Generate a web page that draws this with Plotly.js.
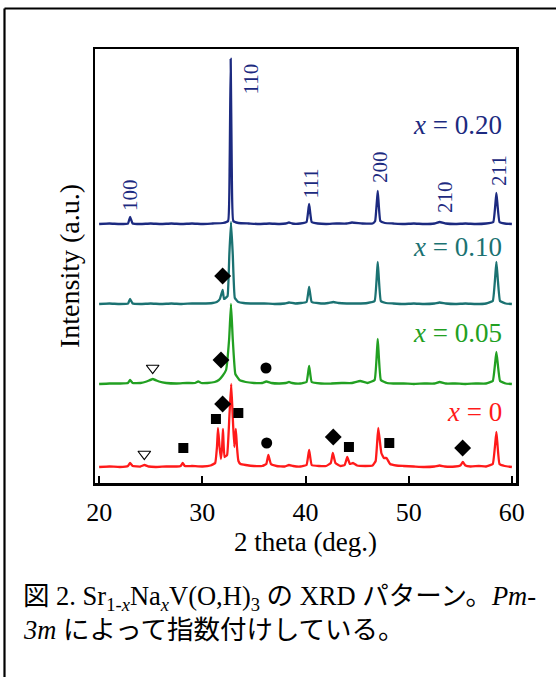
<!DOCTYPE html>
<html>
<head>
<meta charset="utf-8">
<script src="https://cdn.plot.ly/plotly-3.0.1.min.js"></script>
<style>
  html, body { margin: 0; padding: 0; background: #ffffff; }
  #chart { width: 556px; height: 677px; }
</style>
</head>
<body>
<div id="chart"></div>
<script>
// ---- Data ----
const seriesNames = ["x = 0", "x = 0.05", "x = 0.10", "x = 0.20"];
const seriesLabels = ["<i>x</i> = 0", "<i>x</i> = 0.05", "<i>x</i> = 0.10", "<i>x</i> = 0.20"];
const seriesColors = ["#ff1a1a", "#22a022", "#1b7272", "#1c2a80"];
const seriesOffsets = [16, 99, 179, 259];

const theta_x000 = [20, 21, 22, 22.8, 23.0, 23.25, 24, 24.4, 24.8, 25.5, 26.5, 27.5, 27.9, 28.1, 28.3, 29, 30, 30.8, 31.25, 31.42, 31.52, 31.67, 31.8, 31.92, 32.0, 32.15, 32.4, 32.62, 32.8, 32.95, 33.1, 33.25, 33.36, 33.5, 33.7, 34.2, 35, 35.8, 36.2, 36.4, 36.65, 37.2, 38, 38.4, 38.8, 39.5, 40.1, 40.35, 40.6, 41.3, 42, 42.45, 42.65, 42.9, 43.4, 43.8, 44.05, 44.3, 44.6, 45, 45.8, 46.5, 46.8, 47.05, 47.35, 47.6, 47.85, 48.2, 48.8, 49.5, 50.5, 51.5, 52.5, 53.0, 53.5, 54.5, 55.0, 55.25, 55.5, 56, 56.8, 57.5, 58.15, 58.5, 58.8, 59.3, 60];
const int_x000 =   [0, 0.5, 0, 1, 4, 1, 0.5, 2, 0.5, 0, 0.5, 0.5, 1, 4, 1, 1, 0.5, 1.5, 4, 20, 39, 20, 8, 20, 38, 10, 12, 50, 83, 50, 20, 38, 20, 6, 3, 2, 1, 1, 3, 12, 3, 1, 0.5, 2, 1, 0.5, 2, 17, 2, 1, 1, 4, 14, 4, 1, 2, 10, 3, 4, 1.5, 1, 1.5, 6, 39, 14, 9, 9, 3, 1.5, 1, 0.5, 0, 0.5, 1.5, 0.5, 0.5, 1.5, 5, 1.5, 0.5, 1, 0.5, 3, 35, 3, 1, 0];

const theta_x005 = [20, 21, 22, 22.8, 23.0, 23.25, 24, 24.6, 25.2, 25.8, 26.5, 27.5, 28.5, 29.3, 29.6, 29.9, 30.5, 31.2, 31.6, 31.95, 32.3, 32.6, 32.78, 32.95, 33.2, 33.6, 34.2, 35, 35.8, 36.2, 36.7, 37.5, 38.1, 38.4, 38.7, 39.5, 40.1, 40.35, 40.6, 41.5, 42.5, 43.5, 44.5, 45.3, 46, 46.7, 47.0, 47.3, 47.9, 48.5, 49.5, 50.5, 51.5, 52.5, 53.0, 53.6, 54.5, 55.5, 56.5, 57.5, 58.15, 58.5, 58.85, 59.4, 60];
const int_x005 =   [0, 0.5, 0.5, 1, 4, 1, 1, 2.5, 5, 2.5, 1, 0.5, 1, 1, 2.5, 1, 1, 2, 4, 8, 14, 45, 80, 45, 10, 4, 2, 1, 1, 2.5, 1, 0.5, 1, 2, 1, 0.5, 2, 18, 2, 0.5, 0.5, 1, 1, 3, 1, 4, 45, 4, 1, 0.5, 0.5, 0, 0.5, 0.5, 2, 0.5, 0.5, 0, 0.5, 0.5, 3, 32, 3, 0.5, 0];

const theta_x010 = [20, 21, 22, 22.8, 23.0, 23.25, 24, 25, 26, 27, 28, 29, 30, 31, 31.4, 31.7, 31.97, 32.1, 32.25, 32.45, 32.62, 32.78, 32.95, 33.15, 33.5, 34, 35, 36, 37, 38, 38.4, 39, 40.1, 40.35, 40.6, 41.5, 42.2, 42.7, 43.2, 44, 45, 46, 46.7, 47.0, 47.3, 47.8, 48.5, 49.5, 50.5, 51.5, 52.5, 53.0, 53.6, 54.5, 55.5, 56.5, 57.5, 58.15, 58.5, 58.85, 59.4, 60];
const int_x010 =   [0, 0.5, 0, 0.5, 5, 0.5, 0, 0.5, 0, 0.5, 0, 0.5, 0.5, 1, 2, 5, 14, 5, 6, 8, 50, 82, 50, 6, 2, 1, 0.5, 0.5, 0, 0.5, 1.5, 0.5, 2, 17, 2, 0.5, 1, 2, 1, 0.5, 0.5, 1, 3, 42, 3, 1, 0.5, 0, 0.5, 0, 0.5, 1.5, 0.5, 0, 0.5, 0, 0.5, 3, 42, 3, 0.5, 0];

const theta_x020 = [20, 21, 22, 22.8, 23.0, 23.25, 24, 25, 26, 27, 28, 29, 30, 31, 32, 32.5, 32.65, 32.75, 32.85, 33.0, 33.5, 34.5, 35.5, 36.5, 37.5, 38.1, 38.4, 38.7, 39.5, 40.1, 40.35, 40.6, 41.2, 42, 43, 44, 44.5, 45.5, 46.5, 46.75, 47.0, 47.25, 47.7, 48.5, 49.5, 50.5, 51.5, 52.5, 53.0, 53.6, 54.5, 55.5, 56.5, 57.5, 58.2, 58.5, 58.8, 59.3, 60];
const int_x020 =   [0, 0.5, 0, 0.5, 7, 0.5, 0, 0.5, 0, 0.5, 0, 0.5, 0, 0.5, 1, 3, 60, 165, 60, 3, 1, 0.5, 0, 0.5, 0, 0.5, 1.5, 0.5, 0.5, 2, 20, 2, 0.5, 0, 0.5, 0.5, 1.5, 0.5, 0.5, 3, 33, 3, 1, 0.5, 0, 0.5, 0, 0.5, 2, 0.5, 0, 0.5, 0, 0.5, 2, 31, 2, 0.5, 0];

const seriesTheta = [theta_x000, theta_x005, theta_x010, theta_x020];
const seriesInt = [int_x000, int_x005, int_x010, int_x020];

// impurity-phase markers: series index, 2theta, height above that series' baseline
const diamondSeries = [2, 1, 0, 0, 0];
const diamondTheta  = [31.97, 31.81, 31.97, 42.69, 55.23];
const diamondH      = [28, 24, 63, 30, 19];
const squareSeries  = [0, 0, 0, 0, 0];
const squareTheta   = [28.16, 31.32, 33.49, 44.21, 48.12];
const squareH       = [19, 48, 54, 20, 24];
const circleSeries  = [1, 0];
const circleTheta   = [36.17, 36.24];
const circleH       = [16, 24];
const triSeries     = [1, 0];
const triTheta      = [25.19, 24.38];
const triH          = [16, 13];

// Miller indices (labels of the x = 0.20 pattern)
const hklLabels = ["100", "110", "111", "200", "210", "211"];
const xTickVals = [20, 30, 40, 50, 60];

// Caption lines
const captionLines = [
  "図 2. Sr<sub>1-<i>x</i></sub>Na<sub><i>x</i></sub>V(O,H)<sub>3</sub> の XRD パターン。<i>Pm-</i>",
  "<i>3m</i> によって指数付けしている。"
];

// ---- Build traces ----
const serif = "'Liberation Serif', 'Times New Roman', serif";
const traces = [];
for (let i = 0; i < seriesNames.length; i++) {
  traces.push({
    type: "scatter", mode: "lines", name: seriesNames[i],
    x: seriesTheta[i],
    y: seriesInt[i].map(v => v + seriesOffsets[i]),
    line: { color: seriesColors[i], width: 2.3, shape: "spline", smoothing: 0.3 },
    hoverinfo: "skip", showlegend: false
  });
}
function markerTrace(series, theta, h, symbol, size) {
  return {
    type: "scatter", mode: "markers", x: theta,
    y: h.map((v, k) => v + seriesOffsets[series[k]]),
    marker: { symbol: symbol, size: size, color: "#000000",
              line: { color: "#000000", width: symbol.indexOf("open") >= 0 ? 1.2 : 0 } },
    showlegend: false, hoverinfo: "skip", cliponaxis: false
  };
}
traces.push(markerTrace(diamondSeries, diamondTheta, diamondH, "diamond", 13));
traces.push(markerTrace(squareSeries, squareTheta, squareH, "square", 10));
traces.push(markerTrace(circleSeries, circleTheta, circleH, "circle", 11));
traces.push(markerTrace(triSeries, triTheta, triH, "triangle-down-open", 11));

// ---- Annotations ----
const hklPos = [[22.99, 288], [34.67, 404], [40.58, 300], [47.22, 316], [53.51, 286], [58.75, 313]];
const annotations = hklLabels.map((t, i) => ({
  text: t, x: hklPos[i][0], y: hklPos[i][1], xref: "x", yref: "y",
  showarrow: false, textangle: -90, xanchor: "center", yanchor: "middle",
  font: { family: serif, size: 21, color: "#1c2a80" }
}));
const labelY = [71, 150, 236, 358];
for (let i = 0; i < seriesLabels.length; i++) {
  annotations.push({
    text: seriesLabels[i], x: 59.25, y: labelY[i], xref: "x", yref: "y",
    showarrow: false, xanchor: "right", yanchor: "middle",
    font: { family: serif, size: 27, color: seriesColors[i] }
  });
}
const captionY = [598, 630];
captionLines.forEach((t, i) => {
  annotations.push({
    text: t, xref: "paper", yref: "paper", x: (21 - 95) / 421, y: (483 - captionY[i]) / 434,
    xanchor: "left", yanchor: "middle", align: "left", showarrow: false,
    font: { family: "'Liberation Serif', 'Noto Sans CJK JP', serif", size: 26.5, color: "#000000" }
  });
});

// ---- Frame shapes (figure border) ----
const shapes = [
  { type: "line", xref: "paper", yref: "paper", x0: (4.5 - 95) / 421, x1: (620 - 95) / 421,
    y0: (483 - 8.5) / 434, y1: (483 - 8.5) / 434, line: { color: "#000", width: 2.2 } },
  { type: "line", xref: "paper", yref: "paper", x0: (4.5 - 95) / 421, x1: (4.5 - 95) / 421,
    y0: (483 - 8.5) / 434, y1: (483 - 720) / 434, line: { color: "#000", width: 2.2 } }
];

const layout = {
  width: 556, height: 677,
  margin: { l: 95, r: 40, t: 49, b: 194, pad: 0 },
  paper_bgcolor: "#ffffff", plot_bgcolor: "#ffffff",
  showlegend: false,
  font: { family: serif, color: "#000000" },
  xaxis: {
    range: [19.6, 60.4], tickvals: xTickVals, ticktext: xTickVals.map(String),
    ticks: "inside", ticklen: 7, tickwidth: 2, tickcolor: "#000",
    showline: true, linecolor: "#000", linewidth: 2.5, mirror: true,
    showgrid: false, zeroline: false,
    tickfont: { family: serif, size: 26, color: "#000" },
    ticklabelstandoff: 4,
    title: { text: "2 theta (deg.)", font: { family: serif, size: 27, color: "#000" }, standoff: 7 }
  },
  yaxis: {
    range: [0, 434], showticklabels: false, ticks: "",
    showline: true, linecolor: "#000", linewidth: 2.5, mirror: true,
    showgrid: false, zeroline: false,
    title: { text: "Intensity (a.u.)", font: { family: serif, size: 28, color: "#000" }, standoff: 5 }
  },
  annotations: annotations,
  shapes: shapes
};

Plotly.newPlot("chart", traces, layout, { staticPlot: true, displayModeBar: false });
</script>
</body>
</html>
